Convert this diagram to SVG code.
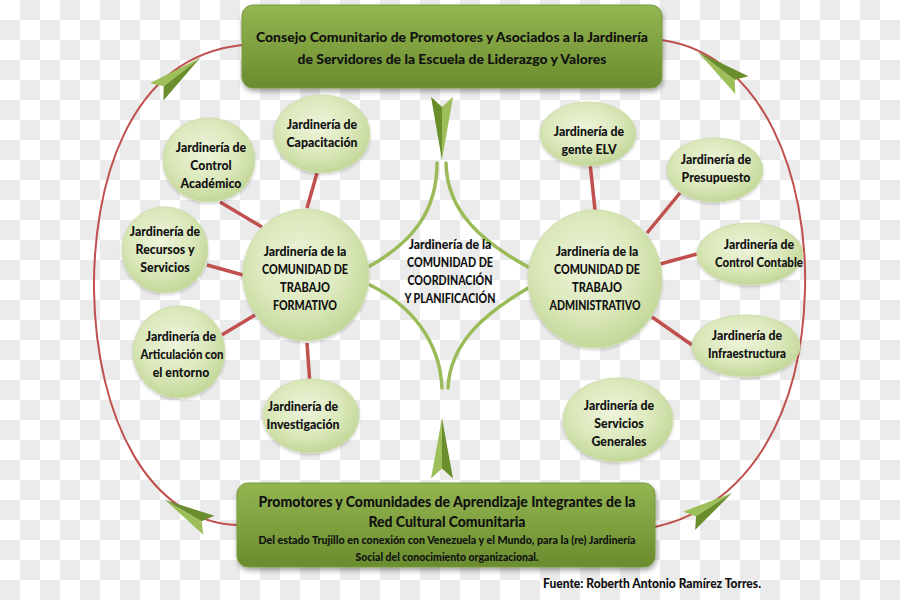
<svg xmlns="http://www.w3.org/2000/svg" xmlns:xlink="http://www.w3.org/1999/xlink" width="900" height="600" viewBox="0 0 900 600">
<defs>
<pattern id="chk" width="40" height="40" patternUnits="userSpaceOnUse">
<rect width="40" height="40" fill="#ffffff"/>
<rect x="20" y="0" width="20" height="20" fill="#ebebeb"/>
<rect x="0" y="20" width="20" height="20" fill="#ebebeb"/>
</pattern>
<linearGradient id="boxg" x1="0" y1="0" x2="0" y2="1">
<stop offset="0" stop-color="#93b552"/>
<stop offset="0.5" stop-color="#7fa13f"/>
<stop offset="1" stop-color="#6a8c2e"/>
</linearGradient>
<radialGradient id="cg" cx="0.45" cy="0.4" r="0.6">
<stop offset="0" stop-color="#eef4dc"/>
<stop offset="0.6" stop-color="#dbe8bb"/>
<stop offset="1" stop-color="#c3d799"/>
</radialGradient>
<filter id="sh" x="-20%" y="-20%" width="140%" height="150%">
<feDropShadow dx="1" dy="3" stdDeviation="2.5" flood-color="#000" flood-opacity="0.35"/>
</filter>
<filter id="csh" x="-20%" y="-20%" width="140%" height="140%">
<feDropShadow dx="0" dy="1.5" stdDeviation="1.5" flood-color="#000" flood-opacity="0.2"/>
</filter>
<g id="arr">
<polygon points="0,0 -55,-11 -46,0" fill="#9dbf5a"/>
<polygon points="0,0 -46,0 -55,11" fill="#6a8e2c"/>
</g>
<style>
.t{font-family:Lato,"Liberation Sans",Arial,sans-serif;font-weight:900;fill:#111;text-anchor:middle}
.s{font-size:12.3px}
.b{font-size:14px}
.loop{fill:none;stroke:#c0504d;stroke-width:2}
.con{stroke:#c0504d;stroke-width:3.5;stroke-linecap:butt}
.dia{fill:none;stroke:#9bbb59;stroke-width:3.5;stroke-linecap:round}
.c{fill:url(#cg);stroke:#cfdfae;stroke-width:1;filter:url(#csh)}
.box{fill:url(#boxg);stroke:#7a9a3e;stroke-width:1;filter:url(#sh)}
</style>
</defs>
<rect width="900" height="600" fill="url(#chk)"/>

<g id="connectors">
<path class="loop" d="M242,45 C125,58 93,190 94,290 C96,420 150,522 237,525"/>
<path class="loop" d="M662,40 C765,55 808,180 805,290 C802,410 752,505 655,527"/>
<line class="con" x1="307" y1="208" x2="317" y2="173"/>
<line class="con" x1="262" y1="227" x2="220" y2="202"/>
<line class="con" x1="243" y1="275" x2="207" y2="265"/>
<line class="con" x1="255" y1="315" x2="220" y2="336"/>
<line class="con" x1="307" y1="343" x2="310" y2="385"/>
<line class="con" x1="590" y1="163" x2="595" y2="210"/>
<line class="con" x1="680" y1="193" x2="647" y2="233"/>
<line class="con" x1="697" y1="254" x2="660" y2="264"/>
<line class="con" x1="652" y1="317" x2="692" y2="345"/>
<path class="dia" d="M437,163 C437,212 412,242 370,266"/>
<path class="dia" d="M446,163 C447,212 482,242 530,268"/>
<path class="dia" d="M370,285 C410,305 440,340 442,388"/>
<path class="dia" d="M530,287 C490,310 450,340 448,388"/>
<use xlink:href="#arr" transform="translate(200,58) rotate(-38)"/>
<use xlink:href="#arr" transform="translate(698,52) rotate(-143)"/>
<use xlink:href="#arr" transform="translate(165,500) rotate(210) scale(0.92,1)"/>
<use xlink:href="#arr" transform="translate(732,493) rotate(-33) scale(0.93,1)"/>
<use xlink:href="#arr" transform="translate(442,160) rotate(90) scale(1.15,1)"/>
<use xlink:href="#arr" transform="translate(442,418) rotate(-90) scale(1.1,1)"/>
</g>

<g id="top-box">
<rect class="box" x="242" y="5" width="420" height="83" rx="11"/>
<text class="t b" x="452" y="42" textLength="392" lengthAdjust="spacingAndGlyphs">Consejo Comunitario de Promotores y Asociados a la Jardinería</text>
<text class="t b" x="452" y="64" textLength="309" lengthAdjust="spacingAndGlyphs">de Servidores de la Escuela de Liderazgo y Valores</text>
</g>

<g id="bottom-box">
<rect class="box" x="237" y="483" width="418" height="84" rx="11"/>
<text class="t" x="447" y="507" font-size="15" textLength="377" lengthAdjust="spacingAndGlyphs">Promotores y Comunidades de Aprendizaje Integrantes de la</text>
<text class="t" x="447" y="527" font-size="15" textLength="157" lengthAdjust="spacingAndGlyphs">Red Cultural  Comunitaria</text>
<text class="t" x="447" y="544" font-size="10.5" textLength="377" lengthAdjust="spacingAndGlyphs">Del estado Trujillo en conexión con Venezuela y el Mundo, para la (re) Jardinería</text>
<text class="t" x="447" y="561" font-size="10.5" textLength="183" lengthAdjust="spacingAndGlyphs">Social del conocimiento organizacional.</text>
</g>

<g id="center-coordinacion">
<text class="t s" x="450" y="249">Jardinería de la</text>
<text class="t s" x="450" y="267" textLength="86" lengthAdjust="spacingAndGlyphs">COMUNIDAD DE</text>
<text class="t s" x="450" y="285" textLength="85" lengthAdjust="spacingAndGlyphs">COORDINACIÓN</text>
<text class="t s" x="450" y="303" textLength="91" lengthAdjust="spacingAndGlyphs">Y PLANIFICACIÓN</text>
</g>

<g id="formativo">
<ellipse class="c" cx="306" cy="275" rx="63" ry="66"/>
<text class="t s" x="305" y="256">Jardinería de la</text>
<text class="t s" x="305" y="274" textLength="86" lengthAdjust="spacingAndGlyphs">COMUNIDAD DE</text>
<text class="t s" x="305" y="292" textLength="50" lengthAdjust="spacingAndGlyphs">TRABAJO</text>
<text class="t s" x="305" y="310" textLength="64" lengthAdjust="spacingAndGlyphs">FORMATIVO</text>
</g>
<g id="capacitacion">
<ellipse class="c" cx="322" cy="134" rx="48" ry="39"/>
<text class="t s" x="322" y="129">Jardinería de</text>
<text class="t s" x="322" y="147">Capacitación</text>
</g>
<g id="control-academico">
<ellipse class="c" cx="209" cy="160" rx="46" ry="42"/>
<text class="t s" x="211" y="152">Jardinería de</text>
<text class="t s" x="211" y="170">Control</text>
<text class="t s" x="211" y="188">Académico</text>
</g>
<g id="recursos">
<ellipse class="c" cx="165" cy="250" rx="43" ry="43"/>
<text class="t s" x="165" y="236">Jardinería de</text>
<text class="t s" x="165" y="254">Recursos y</text>
<text class="t s" x="165" y="272">Servicios</text>
</g>
<g id="articulacion">
<ellipse class="c" cx="179" cy="352" rx="46" ry="46"/>
<text class="t s" x="181" y="341">Jardinería de</text>
<text class="t s" x="182" y="359" textLength="83" lengthAdjust="spacingAndGlyphs">Articulación con</text>
<text class="t s" x="181" y="377">el entorno</text>
</g>
<g id="investigacion">
<ellipse class="c" cx="311" cy="416" rx="48" ry="37"/>
<text class="t s" x="303" y="411">Jardinería de</text>
<text class="t s" x="303" y="429">Investigación</text>
</g>

<g id="administrativo">
<ellipse class="c" cx="595" cy="279" rx="67" ry="69"/>
<text class="t s" x="597" y="256">Jardinería de la</text>
<text class="t s" x="597" y="274" textLength="86" lengthAdjust="spacingAndGlyphs">COMUNIDAD DE</text>
<text class="t s" x="597" y="292" textLength="50" lengthAdjust="spacingAndGlyphs">TRABAJO</text>
<text class="t s" x="595" y="310" textLength="91" lengthAdjust="spacingAndGlyphs">ADMINISTRATIVO</text>
</g>
<g id="gente-elv">
<ellipse class="c" cx="588" cy="134" rx="48" ry="32"/>
<text class="t s" x="589" y="136">Jardinería de</text>
<text class="t s" x="589" y="154">gente ELV</text>
</g>
<g id="presupuesto">
<ellipse class="c" cx="715" cy="170" rx="48" ry="32"/>
<text class="t s" x="716" y="164">Jardinería de</text>
<text class="t s" x="716" y="182">Presupuesto</text>
</g>
<g id="control-contable">
<ellipse class="c" cx="750" cy="254" rx="53" ry="31"/>
<text class="t s" x="759" y="249">Jardinería de</text>
<text class="t s" x="759" y="267" textLength="88" lengthAdjust="spacingAndGlyphs">Control Contable</text>
</g>
<g id="infraestructura">
<ellipse class="c" cx="746" cy="346" rx="54" ry="31"/>
<text class="t s" x="747" y="340">Jardinería de</text>
<text class="t s" x="747" y="358" textLength="78" lengthAdjust="spacingAndGlyphs">Infraestructura</text>
</g>
<g id="servicios-generales">
<ellipse class="c" cx="618" cy="420" rx="55" ry="42"/>
<text class="t s" x="619" y="410">Jardinería de</text>
<text class="t s" x="619" y="428">Servicios</text>
<text class="t s" x="619" y="446">Generales</text>
</g>

<text class="t" x="652" y="588" font-size="13.5" textLength="218" lengthAdjust="spacingAndGlyphs">Fuente: Roberth Antonio Ramírez Torres.</text>
</svg>
